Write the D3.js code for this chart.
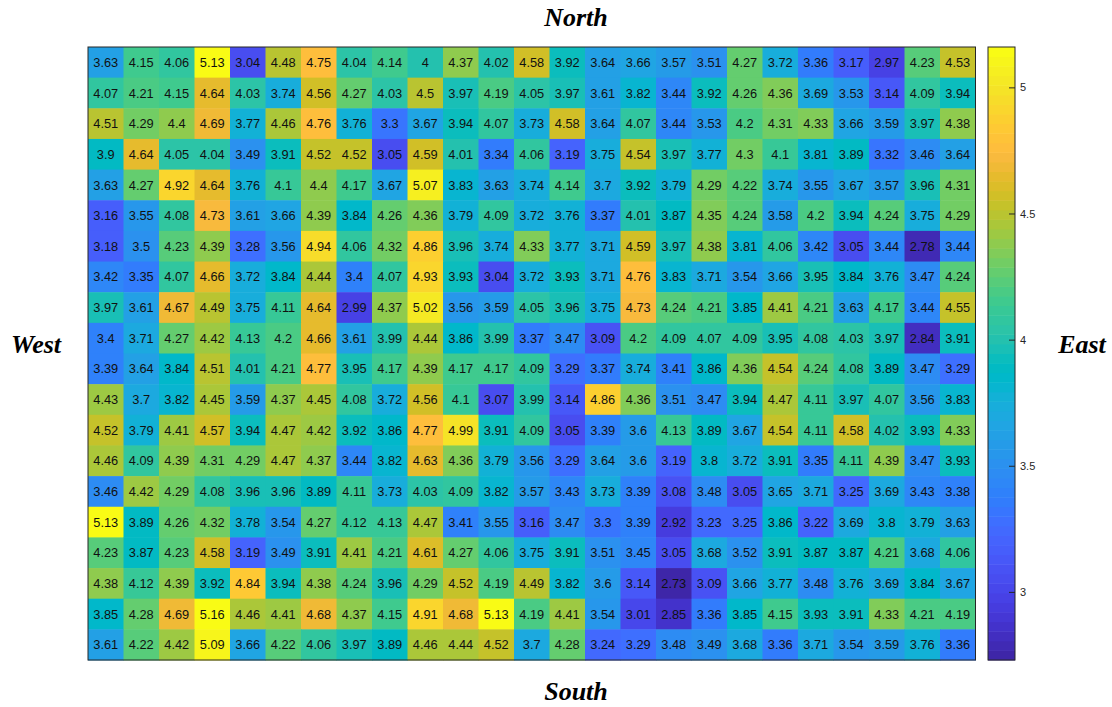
<!DOCTYPE html>
<html>
<head>
<meta charset="utf-8">
<script src="https://cdn.jsdelivr.net/npm/d3@7"></script>
<style>
  body { margin: 0; background: #fff; }
  svg { display: block; }
</style>
</head>
<body>
<script>
// cell values, top row first (North at top, West at left)
var row01 = [3.63,4.15,4.06,5.13,3.04,4.48,4.75,4.04,4.14,4,4.37,4.02,4.58,3.92,3.64,3.66,3.57,3.51,4.27,3.72,3.36,3.17,2.97,4.23,4.53];
var row02 = [4.07,4.21,4.15,4.64,4.03,3.74,4.56,4.27,4.03,4.5,3.97,4.19,4.05,3.97,3.61,3.82,3.44,3.92,4.26,4.36,3.69,3.53,3.14,4.09,3.94];
var row03 = [4.51,4.29,4.4,4.69,3.77,4.46,4.76,3.76,3.3,3.67,3.94,4.07,3.73,4.58,3.64,4.07,3.44,3.53,4.2,4.31,4.33,3.66,3.59,3.97,4.38];
var row04 = [3.9,4.64,4.05,4.04,3.49,3.91,4.52,4.52,3.05,4.59,4.01,3.34,4.06,3.19,3.75,4.54,3.97,3.77,4.3,4.1,3.81,3.89,3.32,3.46,3.64];
var row05 = [3.63,4.27,4.92,4.64,3.76,4.1,4.4,4.17,3.67,5.07,3.83,3.63,3.74,4.14,3.7,3.92,3.79,4.29,4.22,3.74,3.55,3.67,3.57,3.96,4.31];
var row06 = [3.16,3.55,4.08,4.73,3.61,3.66,4.39,3.84,4.26,4.36,3.79,4.09,3.72,3.76,3.37,4.01,3.87,4.35,4.24,3.58,4.2,3.94,4.24,3.75,4.29];
var row07 = [3.18,3.5,4.23,4.39,3.28,3.56,4.94,4.06,4.32,4.86,3.96,3.74,4.33,3.77,3.71,4.59,3.97,4.38,3.81,4.06,3.42,3.05,3.44,2.78,3.44];
var row08 = [3.42,3.35,4.07,4.66,3.72,3.84,4.44,3.4,4.07,4.93,3.93,3.04,3.72,3.93,3.71,4.76,3.83,3.71,3.54,3.66,3.95,3.84,3.76,3.47,4.24];
var row09 = [3.97,3.61,4.67,4.49,3.75,4.11,4.64,2.99,4.37,5.02,3.56,3.59,4.05,3.96,3.75,4.73,4.24,4.21,3.85,4.41,4.21,3.63,4.17,3.44,4.55];
var row10 = [3.4,3.71,4.27,4.42,4.13,4.2,4.66,3.61,3.99,4.44,3.86,3.99,3.37,3.47,3.09,4.2,4.09,4.07,4.09,3.95,4.08,4.03,3.97,2.84,3.91];
var row11 = [3.39,3.64,3.84,4.51,4.01,4.21,4.77,3.95,4.17,4.39,4.17,4.17,4.09,3.29,3.37,3.74,3.41,3.86,4.36,4.54,4.24,4.08,3.89,3.47,3.29];
var row12 = [4.43,3.7,3.82,4.45,3.59,4.37,4.45,4.08,3.72,4.56,4.1,3.07,3.99,3.14,4.86,4.36,3.51,3.47,3.94,4.47,4.11,3.97,4.07,3.56,3.83];
var row13 = [4.52,3.79,4.41,4.57,3.94,4.47,4.42,3.92,3.86,4.77,4.99,3.91,4.09,3.05,3.39,3.6,4.13,3.89,3.67,4.54,4.11,4.58,4.02,3.93,4.33];
var row14 = [4.46,4.09,4.39,4.31,4.29,4.47,4.37,3.44,3.82,4.63,4.36,3.79,3.56,3.29,3.64,3.6,3.19,3.8,3.72,3.91,3.35,4.11,4.39,3.47,3.93];
var row15 = [3.46,4.42,4.29,4.08,3.96,3.96,3.89,4.11,3.73,4.03,4.09,3.82,3.57,3.43,3.73,3.39,3.08,3.48,3.05,3.65,3.71,3.25,3.69,3.43,3.38];
var row16 = [5.13,3.89,4.26,4.32,3.78,3.54,4.27,4.12,4.13,4.47,3.41,3.55,3.16,3.47,3.3,3.39,2.92,3.23,3.25,3.86,3.22,3.69,3.8,3.79,3.63];
var row17 = [4.23,3.87,4.23,4.58,3.19,3.49,3.91,4.41,4.21,4.61,4.27,4.06,3.75,3.91,3.51,3.45,3.05,3.68,3.52,3.91,3.87,3.87,4.21,3.68,4.06];
var row18 = [4.38,4.12,4.39,3.92,4.84,3.94,4.38,4.24,3.96,4.29,4.52,4.19,4.49,3.82,3.6,3.14,2.73,3.09,3.66,3.77,3.48,3.76,3.69,3.84,3.67];
var row19 = [3.85,4.28,4.69,5.16,4.46,4.41,4.68,4.37,4.15,4.91,4.68,5.13,4.19,4.41,3.54,3.01,2.85,3.36,3.85,4.15,3.93,3.91,4.33,4.21,4.19];
var row20 = [3.61,4.22,4.42,5.09,3.66,4.22,4.06,3.97,3.89,4.46,4.44,4.52,3.7,4.28,3.24,3.29,3.48,3.49,3.68,3.36,3.71,3.54,3.59,3.76,3.36];
var grid = [row01,row02,row03,row04,row05,row06,row07,row08,row09,row10,
            row11,row12,row13,row14,row15,row16,row17,row18,row19,row20];

var cbTicks = [3, 3.5, 4, 4.5, 5];
var sideNames = {top: "North", bottom: "South", left: "West", right: "East"};

// parula, 64 levels
var parula = [
[0.2422,0.1504,0.6603],[0.2504,0.1650,0.7076],[0.2578,0.1818,0.7511],[0.2647,0.1978,0.7952],
[0.2706,0.2147,0.8364],[0.2751,0.2342,0.8710],[0.2783,0.2559,0.8991],[0.2803,0.2782,0.9221],
[0.2813,0.3006,0.9414],[0.2810,0.3228,0.9579],[0.2795,0.3447,0.9717],[0.2760,0.3667,0.9829],
[0.2699,0.3892,0.9906],[0.2602,0.4123,0.9952],[0.2440,0.4358,0.9988],[0.2206,0.4603,0.9973],
[0.1963,0.4847,0.9892],[0.1834,0.5074,0.9798],[0.1786,0.5289,0.9682],[0.1764,0.5499,0.9520],
[0.1687,0.5703,0.9359],[0.1540,0.5902,0.9218],[0.1460,0.6091,0.9079],[0.1380,0.6276,0.8973],
[0.1248,0.6459,0.8883],[0.1113,0.6635,0.8763],[0.0952,0.6798,0.8598],[0.0689,0.6948,0.8394],
[0.0297,0.7082,0.8163],[0.0036,0.7203,0.7917],[0.0067,0.7312,0.7660],[0.0433,0.7411,0.7394],
[0.0964,0.7500,0.7120],[0.1408,0.7584,0.6842],[0.1717,0.7670,0.6554],[0.1938,0.7758,0.6251],
[0.2161,0.7843,0.5923],[0.2470,0.7918,0.5567],[0.2906,0.7973,0.5188],[0.3406,0.8008,0.4789],
[0.3909,0.8029,0.4354],[0.4456,0.8024,0.3909],[0.5044,0.7993,0.3480],[0.5616,0.7942,0.3045],
[0.6174,0.7876,0.2612],[0.6720,0.7793,0.2227],[0.7242,0.7698,0.1910],[0.7738,0.7598,0.1646],
[0.8203,0.7498,0.1535],[0.8634,0.7406,0.1596],[0.9035,0.7330,0.1774],[0.9393,0.7288,0.2100],
[0.9728,0.7298,0.2394],[0.9956,0.7434,0.2371],[0.9970,0.7659,0.2199],[0.9952,0.7893,0.2028],
[0.9892,0.8136,0.1885],[0.9786,0.8386,0.1766],[0.9676,0.8639,0.1643],[0.9610,0.8890,0.1537],
[0.9597,0.9135,0.1423],[0.9628,0.9373,0.1265],[0.9691,0.9606,0.1064],[0.9769,0.9839,0.0805]
].map(function(c){ return d3.rgb(c[0]*255, c[1]*255, c[2]*255).formatHex(); });

var W = 1112, H = 707;
var plot = {left: 88, top: 47, right: 975.5, bottom: 660};
var cb = {left: 988, right: 1015};

var allVals = d3.merge(grid);
var vmin = d3.min(allVals), vmax = d3.max(allVals);

var color = d3.scaleQuantize().domain([vmin, vmax]).range(parula);

var x = d3.scaleBand().domain(d3.range(grid[0].length)).range([plot.left, plot.right]);
var y = d3.scaleBand().domain(d3.range(grid.length)).range([plot.top, plot.bottom]);

var svg = d3.select("body").append("svg")
  .attr("width", W)
  .attr("height", H);

var cells = [];
grid.forEach(function(r, i){
  r.forEach(function(v, j){ cells.push({r: i, c: j, v: v}); });
});

svg.append("g").selectAll("rect")
  .data(cells)
  .enter()
  .append("rect")
  .attr("x", function(d){ return x(d.c); })
  .attr("y", function(d){ return y(d.r); })
  .attr("width", x.bandwidth() + 0.5)
  .attr("height", y.bandwidth() + 0.5)
  .attr("fill", function(d){ return color(d.v); });

svg.append("g").selectAll("text")
  .data(cells)
  .enter()
  .append("text")
  .attr("x", function(d){ return x(d.c) + x.bandwidth()/2; })
  .attr("y", function(d){ return y(d.r) + y.bandwidth()/2; })
  .attr("text-anchor", "middle")
  .attr("dy", "0.36em")
  .style("font-family", "'Liberation Sans', Arial, sans-serif")
  .style("font-size", "12.8px")
  .style("fill", "#111")
  .text(function(d){ return String(d.v); });

svg.append("rect")
  .attr("x", plot.left).attr("y", plot.top)
  .attr("width", plot.right - plot.left)
  .attr("height", plot.bottom - plot.top)
  .attr("fill", "none")
  .attr("stroke", "#262626")
  .attr("stroke-width", 1);

// colorbar
var cbY = d3.scaleLinear().domain([vmin, vmax]).range([plot.bottom, plot.top]);
var step = (vmax - vmin) / parula.length;
svg.append("g").selectAll("rect")
  .data(parula)
  .enter()
  .append("rect")
  .attr("x", cb.left)
  .attr("width", cb.right - cb.left)
  .attr("y", function(d, i){ return cbY(vmin + (i+1)*step); })
  .attr("height", function(d, i){ return cbY(vmin + i*step) - cbY(vmin + (i+1)*step) + 0.5; })
  .attr("fill", function(d){ return d; });

svg.append("rect")
  .attr("x", cb.left).attr("y", plot.top)
  .attr("width", cb.right - cb.left)
  .attr("height", plot.bottom - plot.top)
  .attr("fill", "none")
  .attr("stroke", "#262626")
  .attr("stroke-width", 1);

var cbAxis = d3.axisRight(cbY).tickValues(cbTicks).tickSizeInner(-6).tickSizeOuter(0).tickPadding(5)
  .tickFormat(d3.format("~g"));
var cbG = svg.append("g")
  .attr("transform", "translate(" + cb.right + ",0)")
  .call(cbAxis);
cbG.select(".domain").remove();
cbG.selectAll("line").attr("stroke", "#262626");
cbG.selectAll("text")
  .style("font-family", "'Liberation Sans', Arial, sans-serif")
  .style("font-size", "11px")
  .attr("fill", "#262626");

// side titles
var titleStyle = function(sel){
  sel.style("font-family", "'Liberation Serif', 'Times New Roman', serif")
    .style("font-size", "26px")
    .style("font-weight", "bold")
    .style("font-style", "italic")
    .attr("text-anchor", "middle")
    .attr("fill", "#000");
};
svg.append("text").attr("x", 576).attr("y", 26).text(sideNames.top).call(titleStyle);
svg.append("text").attr("x", 576).attr("y", 700).text(sideNames.bottom).call(titleStyle);
svg.append("text").attr("x", 36).attr("y", 353).text(sideNames.left).call(titleStyle);
svg.append("text").attr("x", 1082).attr("y", 353).text(sideNames.right).call(titleStyle);
</script>
</body>
</html>
